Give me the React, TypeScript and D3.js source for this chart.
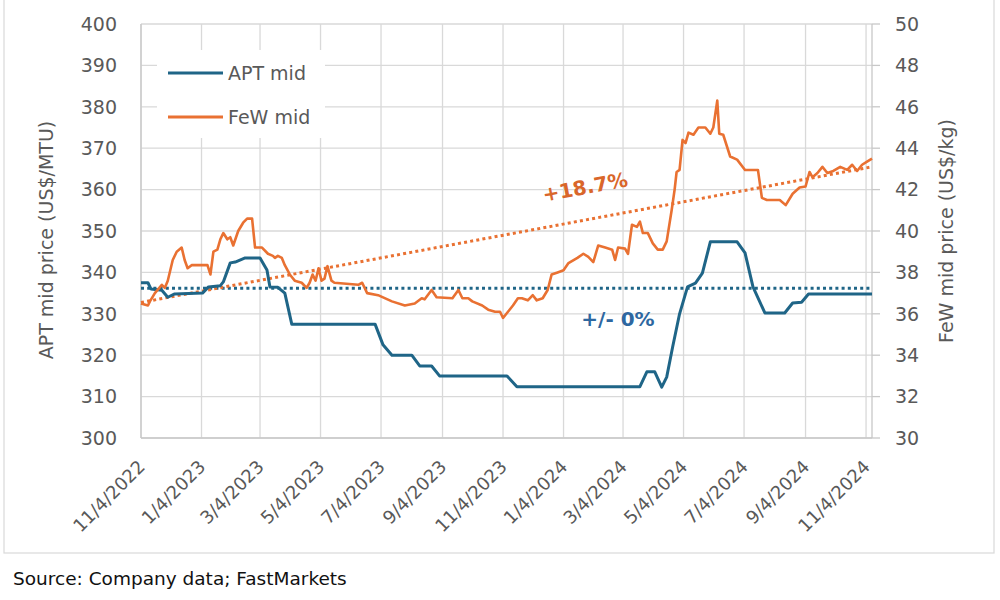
import React from "react";
import * as d3 from "d3";

// ---------- data ----------
const xTickLabels = ["11/4/2022", "1/4/2023", "3/4/2023", "5/4/2023", "7/4/2023", "9/4/2023", "11/4/2023", "1/4/2024", "3/4/2024", "5/4/2024", "7/4/2024", "9/4/2024", "11/4/2024"];
const leftTicks = [300, 310, 320, 330, 340, 350, 360, 370, 380, 390, 400];
const rightTicks = [30, 32, 34, 36, 38, 40, 42, 44, 46, 48, 50];
const xDomain = ["2022-11-04", "2024-11-10"];

const aptDates = ["2022-11-04", "2022-11-11", "2022-11-14", "2022-11-25", "2022-12-01", "2022-12-08", "2023-01-05", "2023-01-11", "2023-01-23", "2023-01-26", "2023-02-02", "2023-02-07", "2023-02-17", "2023-03-04", "2023-03-11", "2023-03-14", "2023-03-22", "2023-03-29", "2023-04-05", "2023-06-28", "2023-07-06", "2023-07-15", "2023-08-04", "2023-08-12", "2023-08-24", "2023-09-01", "2023-11-08", "2023-11-18", "2024-03-21", "2024-03-28", "2024-04-05", "2024-04-12", "2024-04-17", "2024-04-23", "2024-04-30", "2024-05-08", "2024-05-16", "2024-05-23", "2024-05-31", "2024-06-27", "2024-07-05", "2024-07-13", "2024-07-25", "2024-08-14", "2024-08-22", "2024-08-31", "2024-09-07", "2024-11-10"];
const aptValues = [337.5, 337.5, 336, 335.7, 334, 334.8, 335, 336.5, 336.8, 337.7, 342.3, 342.5, 343.5, 343.5, 340.6, 336.5, 336.4, 335, 327.5, 327.5, 322.5, 320, 320, 317.4, 317.4, 315, 315, 312.4, 312.4, 316, 316, 312.3, 314.7, 322, 330, 336.5, 337.4, 339.8, 347.4, 347.4, 344.7, 336.5, 330.2, 330.2, 332.6, 332.8, 334.8, 334.8];

const fewDates = ["2022-11-04", "2022-11-11", "2022-11-13", "2022-11-18", "2022-11-25", "2022-11-28", "2022-12-01", "2022-12-06", "2022-12-10", "2022-12-15", "2022-12-18", "2022-12-21", "2022-12-25", "2023-01-10", "2023-01-13", "2023-01-16", "2023-01-20", "2023-01-23", "2023-01-26", "2023-01-30", "2023-02-02", "2023-02-05", "2023-02-10", "2023-02-15", "2023-02-19", "2023-02-24", "2023-02-27", "2023-03-06", "2023-03-12", "2023-03-17", "2023-03-19", "2023-03-22", "2023-03-26", "2023-03-29", "2023-04-03", "2023-04-08", "2023-04-15", "2023-04-20", "2023-04-23", "2023-04-26", "2023-04-29", "2023-05-02", "2023-05-05", "2023-05-08", "2023-05-11", "2023-05-15", "2023-05-18", "2023-06-11", "2023-06-15", "2023-06-20", "2023-07-01", "2023-07-15", "2023-07-28", "2023-08-07", "2023-08-14", "2023-08-17", "2023-08-24", "2023-08-29", "2023-09-14", "2023-09-20", "2023-09-24", "2023-09-30", "2023-10-04", "2023-10-14", "2023-10-20", "2023-10-27", "2023-11-01", "2023-11-04", "2023-11-09", "2023-11-14", "2023-11-19", "2023-11-23", "2023-11-29", "2023-12-04", "2023-12-08", "2023-12-14", "2023-12-19", "2023-12-23", "2023-12-29", "2024-01-04", "2024-01-09", "2024-01-18", "2024-01-24", "2024-01-29", "2024-02-03", "2024-02-08", "2024-02-15", "2024-02-22", "2024-02-25", "2024-02-28", "2024-03-06", "2024-03-09", "2024-03-13", "2024-03-18", "2024-03-21", "2024-03-24", "2024-03-29", "2024-04-03", "2024-04-08", "2024-04-13", "2024-04-17", "2024-04-22", "2024-04-25", "2024-04-27", "2024-04-30", "2024-05-03", "2024-05-06", "2024-05-09", "2024-05-14", "2024-05-19", "2024-05-26", "2024-05-31", "2024-06-03", "2024-06-07", "2024-06-09", "2024-06-13", "2024-06-20", "2024-06-27", "2024-07-05", "2024-07-18", "2024-07-22", "2024-07-27", "2024-08-09", "2024-08-15", "2024-08-22", "2024-08-29", "2024-09-04", "2024-09-08", "2024-09-11", "2024-09-16", "2024-09-21", "2024-09-26", "2024-10-02", "2024-10-09", "2024-10-16", "2024-10-21", "2024-10-26", "2024-10-31", "2024-11-05", "2024-11-10"];
const fewValues = [36.5, 36.4, 36.6, 37.0, 37.4, 37.25, 37.6, 38.6, 39.0, 39.2, 38.6, 38.2, 38.35, 38.35, 37.9, 39.0, 39.1, 39.6, 39.9, 39.6, 39.7, 39.3, 40.0, 40.4, 40.6, 40.6, 39.2, 39.2, 38.9, 38.8, 38.7, 38.8, 38.7, 38.35, 37.9, 37.6, 37.5, 37.25, 37.5, 37.9, 37.6, 38.2, 37.6, 37.7, 38.3, 37.6, 37.5, 37.4, 37.5, 37.0, 36.9, 36.6, 36.4, 36.5, 36.75, 36.7, 37.15, 36.8, 36.75, 37.15, 36.75, 36.75, 36.6, 36.4, 36.2, 36.1, 36.1, 35.8, 36.1, 36.4, 36.75, 36.75, 36.65, 36.9, 36.65, 36.75, 37.15, 37.9, 38.0, 38.1, 38.45, 38.7, 38.9, 38.75, 38.5, 39.3, 39.2, 39.1, 38.6, 39.2, 39.15, 38.9, 40.3, 40.2, 40.45, 39.9, 39.9, 39.4, 39.1, 39.1, 39.5, 41.0, 42.0, 42.85, 42.95, 44.4, 44.25, 44.75, 44.65, 45.0, 45.0, 44.7, 45.0, 46.3, 44.7, 44.65, 43.6, 43.45, 42.95, 42.95, 41.6, 41.5, 41.5, 41.25, 41.8, 42.1, 42.15, 42.85, 42.6, 42.8, 43.1, 42.8, 42.9, 43.1, 42.95, 43.2, 42.9, 43.2, 43.35, 43.5];

// trend lines (start / end values)
const aptTrend = [336.2, 336.2];
const fewTrend = [36.55, 43.1];
const aptTrendLabel = "+/- 0%";
const fewTrendLabel = "+18.7%";
const seriesNames = ["APT mid", "FeW mid"];

// ---------- styles ----------
const BLUE = "#1f6587";
const ORANGE = "#e97132";
const GRID = "#d9d9d9";
const TXT = "#595959";
const FONT = "'DejaVu Sans', sans-serif";

const parseISO = d3.timeParse("%Y-%m-%d");
const parseMDY = d3.timeParse("%m/%d/%Y");

export default function App() {
  const L = 141, R = 872, T = 24, B = 438;
  const x = d3.scaleTime().domain(xDomain.map((s) => parseISO(s) as Date)).range([L, R]);
  const yL = d3.scaleLinear().domain([300, 400]).range([B, T]);
  const yR = d3.scaleLinear().domain([30, 50]).range([B, T]);

  const apt = aptDates.map((d, i) => ({ d: parseISO(d) as Date, v: aptValues[i] }));
  const few = fewDates.map((d, i) => ({ d: parseISO(d) as Date, v: fewValues[i] }));

  const aptLine = d3.line<{ d: Date; v: number }>().x((p) => x(p.d)).y((p) => yL(p.v));
  const fewLine = d3.line<{ d: Date; v: number }>().x((p) => x(p.d)).y((p) => yR(p.v));

  const xTicks = xTickLabels.map((s) => ({ s, d: parseMDY(s) as Date }));
  const [d0, d1] = x.domain();

  return (
    <svg width={1000} height={600} style={{ position: "absolute", left: 0, top: 0, background: "#fff" }} fontFamily={FONT}>
      <rect x={4} y={-2} width={990} height={555} fill="#fff" stroke="#d9d9d9" strokeWidth={1.2} />

      {/* horizontal grid */}
      {leftTicks.map((t) => (
        <line key={"h" + t} x1={L} x2={R} y1={yL(t)} y2={yL(t)} stroke={GRID} strokeWidth={1.3} />
      ))}
      {/* vertical grid */}
      {xTicks.map((t) => (
        <line key={"v" + t.s} x1={x(t.d)} x2={x(t.d)} y1={T} y2={B} stroke={GRID} strokeWidth={1.3} />
      ))}
      {/* axes */}
      <line x1={L} x2={L} y1={T} y2={B} stroke="#c8c8c8" strokeWidth={1.3} />
      <line x1={L} x2={R} y1={B} y2={B} stroke="#c8c8c8" strokeWidth={1.3} />
      <line x1={R} x2={R} y1={T} y2={B} stroke="#c8c8c8" strokeWidth={1.3} />
      {rightTicks.map((t) => (
        <line key={"rt" + t} x1={R} x2={R + 8} y1={yR(t)} y2={yR(t)} stroke="#c8c8c8" strokeWidth={1.3} />
      ))}

      {/* legend box */}
      <rect x={157} y={50} width={168} height={88} fill="#fff" />
      <line x1={168} x2={223} y1={73} y2={73} stroke={BLUE} strokeWidth={3} />
      <text x={228} y={73} dy="0.35em" fontSize={19} fill={TXT}>{seriesNames[0]}</text>
      <line x1={168} x2={223} y1={117} y2={117} stroke={ORANGE} strokeWidth={3} />
      <text x={228} y={117} dy="0.35em" fontSize={19} fill={TXT}>{seriesNames[1]}</text>

      {/* trend lines */}
      <line x1={x(d0)} x2={x(d1)} y1={yL(aptTrend[0])} y2={yL(aptTrend[1])} stroke={BLUE} strokeWidth={3} strokeDasharray="3 3.2" />
      <line x1={x(d0)} x2={x(d1)} y1={yR(fewTrend[0])} y2={yR(fewTrend[1])} stroke={ORANGE} strokeWidth={3} strokeDasharray="3 3.2" />

      {/* series */}
      <path d={aptLine(apt) || ""} fill="none" stroke={BLUE} strokeWidth={3} strokeLinejoin="round" />
      <path d={fewLine(few) || ""} fill="none" stroke={ORANGE} strokeWidth={2.6} strokeLinejoin="round" />

      {/* annotations */}
      <text transform="translate(585,187) rotate(-10.5)" textAnchor="middle" dy="0.35em" fontSize={20} fontWeight="bold" fill="#d9662a">{fewTrendLabel}</text>
      <text x={618} y={319} textAnchor="middle" dy="0.35em" fontSize={20} fontWeight="bold" fill="#2e67a0">{aptTrendLabel}</text>

      {/* left tick labels */}
      {leftTicks.map((t) => (
        <text key={"lt" + t} x={117} y={yL(t)} dy="0.36em" textAnchor="end" fontSize={19} fill={TXT}>{t}</text>
      ))}
      {/* right tick labels */}
      {rightTicks.map((t) => (
        <text key={"rl" + t} x={895} y={yR(t)} dy="0.36em" textAnchor="start" fontSize={19} fill={TXT}>{t}</text>
      ))}
      {/* x tick labels */}
      {xTicks.map((t) => (
        <text key={"xl" + t.s} transform={`translate(${x(t.d) + 5},468) rotate(-45)`} textAnchor="end" fontSize={18} fill={TXT}>{t.s}</text>
      ))}

      {/* axis titles */}
      <text transform="translate(53,240) rotate(-90)" textAnchor="middle" fontSize={19} fill={TXT}>APT mid price (US$/MTU)</text>
      <text transform="translate(953,231) rotate(-90)" textAnchor="middle" fontSize={19} fill={TXT}>FeW mid price (US$/kg)</text>

      <text x={13} y={585} fontSize={18.5} fill="#111">Source: Company data; FastMarkets</text>
    </svg>
  );
}
